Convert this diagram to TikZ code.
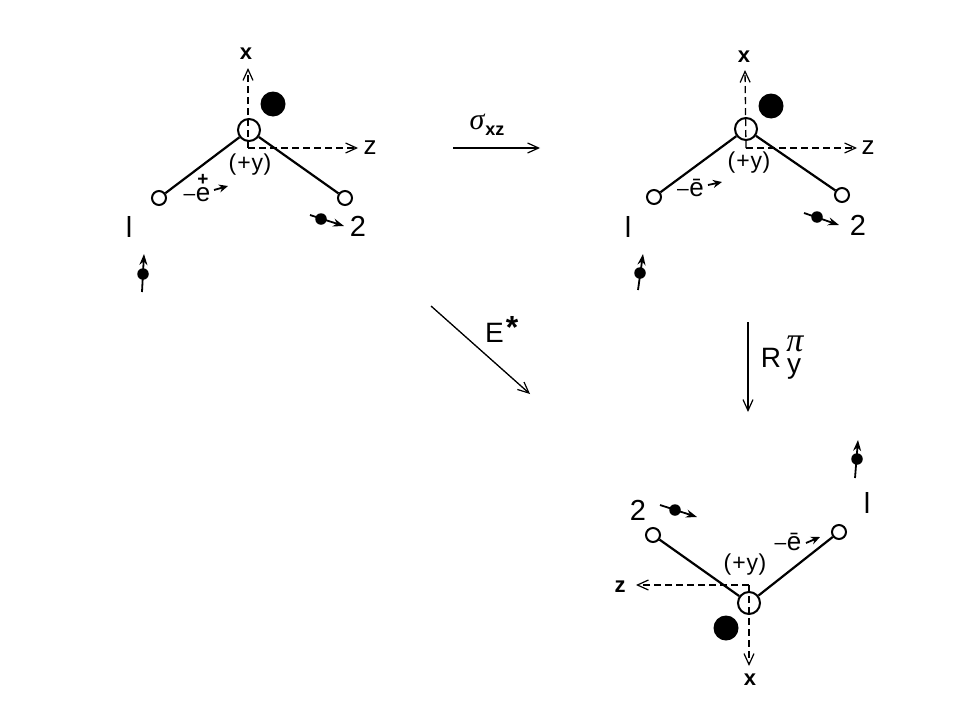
\documentclass[tikz,border=0pt]{standalone}
\usepackage{fontspec}
\setmainfont{Liberation Sans}
\newfontfamily\greekfont[ItalicFont={Liberation Serif Italic}]{Liberation Serif}
\usetikzlibrary{arrows.meta}
\newcommand{\plusy}{(\kern1pt+\kern1pt y\kern.5pt)}
\newcommand{\chdash}{{\fontsize{21}{21}\selectfont\raisebox{1pt}{–}}\kern.5pt}
\tikzset{
  x=1pt,y=-1pt,
  bigatom/.style={circle,draw=black,line width=2pt,fill=none,minimum size=22pt,inner sep=0pt},
  smallatom/.style={circle,draw=black,line width=2pt,fill=white,minimum size=14pt,inner sep=0pt},
  lonepair/.style={circle,fill=black,minimum size=25pt,inner sep=0pt},
  spindot/.style={circle,fill=black,minimum size=11.5pt,inner sep=0pt},
  bond/.style={line width=2.2pt},
  axisline/.style={line width=1.3pt,dash pattern=on 7pt off 4pt,-{Straight Barb[length=11pt,width=10pt,line width=1.2pt]}},
  oparrow/.style={line width=1.3pt,-{Straight Barb[length=11pt,width=10pt,line width=1.2pt]}},
  spinarrow/.style={line width=1.8pt,-{Stealth[length=11pt,width=8pt]}},
  charrow/.style={line width=1.8pt,-{Stealth[length=9pt,width=8pt]}},
  axlabel/.style={font=\fontsize{22}{22}\selectfont\bfseries,inner sep=0pt},
  zlabel/.style={font=\fontsize{26}{26}\selectfont,inner sep=0pt},
  numlabel/.style={font=\fontsize{29}{29}\selectfont,inner sep=0pt},
  ylabel/.style={font=\fontsize{23}{23}\selectfont,inner sep=0pt},
  chlabel/.style={font=\fontsize{26}{26}\selectfont,inner sep=0pt,anchor=base},
  oplabel/.style={font=\fontsize{28}{28}\selectfont,inner sep=0pt},
}
\begin{document}
\begin{tikzpicture}
\useasboundingbox[fill=white] (0,0) rectangle (960,720);
% left molecule
\node[bigatom] (aO) at (249,130) {};
\node[smallatom] (a1) at (159,198) {};
\node[smallatom] (a2) at (345,198) {};
\node[lonepair] (aL) at (273,104) {};
\coordinate (aC) at (248,148);
\node[axlabel] (ax) at (246,54) {x};
\node[zlabel] (az) at (370,148) {z};
\coordinate (axT) at (248,68);
\coordinate (azT) at (358,148);
\draw[bond] (aO) -- (a1);
\draw[bond] (aO) -- (a2);
\draw[axisline] (aC) -- (axT);
\draw[axisline] (aC) -- (azT);
\node[ylabel] (ay) at (250,165) {\plusy};
\node[chlabel] (ae) at (197,201.5) {\chdash\rlap{\raisebox{16pt}{\kern1.5pt\fontsize{19}{19}\selectfont\bfseries +}}e};
\coordinate (aeA) at (214,190); \coordinate (aeB) at (228,186);
\draw[charrow] (aeA) -- (aeB);
\node[numlabel] (al1) at (129,227) {l};
\node[numlabel] (al2) at (358,226) {2};
\node[spindot] (as1) at (143,274) {};
\coordinate (as1A) at (142,292); \coordinate (as1B) at (144,254);
\draw[spinarrow] (as1A) -- (as1B);
\node[spindot] (as2) at (321,219) {};
\coordinate (as2A) at (310,215); \coordinate (as2B) at (344,226);
\draw[spinarrow] (as2A) -- (as2B);
% right molecule
\node[bigatom] (bO) at (746,129) {};
\node[smallatom] (b1) at (654,197) {};
\node[smallatom] (b2) at (842,195) {};
\node[lonepair] (bL) at (771,106) {};
\coordinate (bC) at (746,148);
\node[axlabel] (bx) at (744,57) {x};
\node[zlabel] (bz) at (868,148) {z};
\coordinate (bxT) at (745,70);
\coordinate (bzT) at (857,148);
\draw[bond] (bO) -- (b1);
\draw[bond] (bO) -- (b2);
\draw[axisline] (bC) -- (bxT);
\draw[axisline] (bC) -- (bzT);
\node[ylabel] (by) at (749,163) {\plusy};
\node[chlabel] (be) at (690.5,196) {\chdash\=e};
\coordinate (beA) at (708,185); \coordinate (beB) at (722,182);
\draw[charrow] (beA) -- (beB);
\node[numlabel] (bl1) at (628,227) {l};
\node[numlabel] (bl2) at (858,225) {2};
\node[spindot] (bs1) at (640,273) {};
\coordinate (bs1A) at (638,290); \coordinate (bs1B) at (643,254);
\draw[spinarrow] (bs1A) -- (bs1B);
\node[spindot] (bs2) at (817,217) {};
\coordinate (bs2A) at (804,213); \coordinate (bs2B) at (839,225);
\draw[spinarrow] (bs2A) -- (bs2B);
% bottom molecule
\node[bigatom] (cO) at (749,603) {};
\node[smallatom] (c2) at (653,535) {};
\node[smallatom] (c1) at (839,532) {};
\node[lonepair] (cL) at (726,628) {};
\coordinate (cC) at (749,585);
\node[axlabel] (cx) at (750,680) {x};
\node[axlabel] (cz) at (620,587) {z};
\coordinate (cxT) at (749,666);
\coordinate (czT) at (636,585);
\draw[bond] (cO) -- (c1);
\draw[bond] (cO) -- (c2);
\draw[axisline] (cC) -- (cxT);
\draw[axisline] (cC) -- (czT);
\node[ylabel] (cy) at (745,565) {\plusy};
\node[chlabel] (ce) at (788,550.5) {\chdash\=e};
\coordinate (ceA) at (806,543); \coordinate (ceB) at (820,537);
\draw[charrow] (ceA) -- (ceB);
\node[numlabel] (cl1) at (867,503) {l};
\node[numlabel] (cl2) at (638,510) {2};
\node[spindot] (cs1) at (857,459) {};
\coordinate (cs1A) at (855,478); \coordinate (cs1B) at (858,440);
\draw[spinarrow] (cs1A) -- (cs1B);
\node[spindot] (cs2) at (675,510) {};
\coordinate (cs2A) at (660,505); \coordinate (cs2B) at (697,517);
\draw[spinarrow] (cs2A) -- (cs2B);
% operations
\coordinate (s1) at (453,148); \coordinate (s2) at (540,148);
\draw[oparrow] (s1) -- (s2);
\node[inner sep=0pt,anchor=base] (slab) at (487,129) {\fontsize{30}{30}\selectfont{\greekfont\itshape σ}\hspace{1pt}\raisebox{-6pt}{\fontsize{18}{18}\selectfont\bfseries xz}};
\coordinate (e1) at (431,306); \coordinate (e2) at (530,394);
\draw[oparrow] (e1) -- (e2);
\node[oplabel,anchor=base west] (elab) at (485,342) {E};
\node[font=\fontsize{32}{32}\selectfont\bfseries,inner sep=0pt] (estar) at (512,327) {*};
\coordinate (r1) at (748,322); \coordinate (r2) at (748,412);
\draw[oparrow] (r1) -- (r2);
\node[oplabel,anchor=base] (rlab) at (771,367) {R};
\node[inner sep=0pt,anchor=base] (rpi) at (795,351) {\fontsize{34}{34}\selectfont\greekfont\itshape π};
\node[oplabel,anchor=base] (ry) at (794,373) {y};
\end{tikzpicture}
\end{document}
